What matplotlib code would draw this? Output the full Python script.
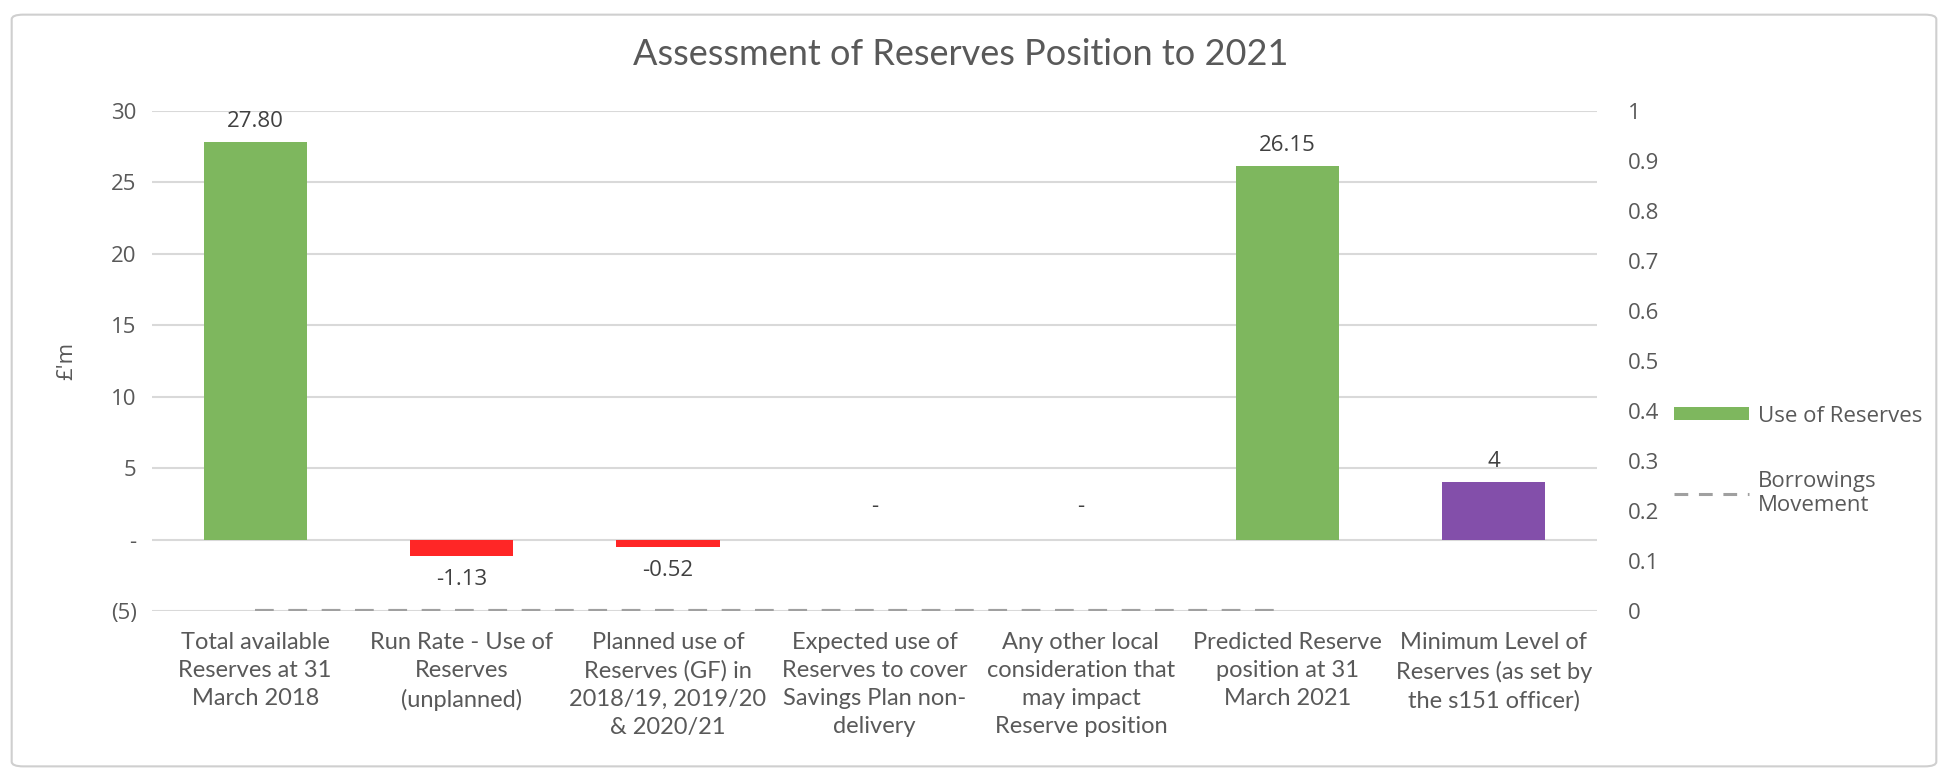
import matplotlib.pyplot as plt
import numpy as np
from matplotlib.lines import Line2D
from matplotlib.patches import Patch, FancyBboxPatch
from matplotlib.ticker import FuncFormatter

categories = [
    'Total available\nReserves at 31\nMarch 2018',
    'Run Rate - Use of\nReserves\n(unplanned)',
    'Planned use of\nReserves (GF) in\n2018/19, 2019/20\n& 2020/21',
    'Expected use of\nReserves to cover\nSavings Plan non-\ndelivery',
    'Any other local\nconsideration that\nmay impact\nReserve position',
    'Predicted Reserve\nposition at 31\nMarch 2021',
    'Minimum Level of\nReserves (as set by\nthe s151 officer)',
]
reserves = [27.80, -1.13, -0.52, 0.0, 0.0, 26.15, 4.0]
label_fmt = ['{:.2f}', '{:.2f}', '{:.2f}', '{:.2f}', '{:.2f}', '{:.2f}', '{:g}']
borrowings = [0, 0, 0, 0, 0, 0, np.nan]

GREEN = '#7EB75E'
RED = '#FF2626'
PURPLE = '#834FAA'
GREY_TXT = '#595959'
GRID = '#D9D9D9'
NARROW = ['Lato', 'DejaVu Sans']
SANS = ['Open Sans', 'DejaVu Sans']

bar_colors = [GREEN, RED, RED, RED, RED, GREEN, PURPLE]

fig = plt.figure(figsize=(19.48, 7.71), dpi=100)
ax = fig.add_axes([0.078, 0.2075, 0.7418, 0.6485])
ax2 = ax.twinx()

x = np.arange(len(categories))
ax.bar(x, reserves, width=0.5, color=bar_colors, zorder=2)

# data labels
for xi, v, fmt in zip(x, reserves, label_fmt):
    if v == 0:
        txt, off = '-', 24
    else:
        txt = fmt.format(v)
        off = 15 if v > 0 else -17
    ax.annotate(txt, (xi, v), xytext=(0, off), textcoords='offset points',
                ha='center', va='center', fontsize=16, color='#404040', family=SANS)

ax.set_ylim(-5, 30)
ax.set_xlim(-0.5, len(categories) - 0.5)
ax.set_yticks(np.arange(-5, 31, 5))


def left_fmt(v, pos):
    if v == 0:
        return '-'
    if v < 0:
        return '({:g})'.format(-v)
    return '{:g}'.format(v)


ax.yaxis.set_major_formatter(FuncFormatter(left_fmt))
ax.grid(axis='y', color=GRID, linewidth=1.5, zorder=0)
ax.set_axisbelow(True)
ax.set_xticks(x)
ax.set_xticklabels(categories, fontsize=17, color=GREY_TXT, family=NARROW,
                   linespacing=1.42)
ax.tick_params(axis='x', length=0, pad=15)
ax.tick_params(axis='y', length=0, pad=11, labelsize=16, labelcolor=GREY_TXT)
for lab in ax.get_yticklabels():
    lab.set_family(SANS)
for s in ax.spines.values():
    s.set_visible(False)
ax.set_ylabel("£'m", fontsize=16, color=GREY_TXT, family=SANS)
ax.yaxis.set_label_coords(-0.052, 0.5)

# secondary axis with borrowings line
ax2.plot(x, borrowings, color='#A0A0A0', linewidth=3, dashes=(4.5, 3.5), zorder=3,
         dash_capstyle='butt')
ax2.set_ylim(0, 1)
ax2.set_yticks(np.arange(0, 1.01, 0.1))
ax2.yaxis.set_major_formatter(FuncFormatter(lambda v, p: '{:g}'.format(round(v, 1))))
ax2.tick_params(axis='y', length=0, pad=22, labelsize=16, labelcolor=GREY_TXT)
for lab in ax2.get_yticklabels():
    lab.set_family(SANS)
for s in ax2.spines.values():
    s.set_visible(False)

fig.text(0.493, 0.929, 'Assessment of Reserves Position to 2021', ha='center', va='center',
         fontsize=26, color=GREY_TXT, family=NARROW, weight='normal')

handles = [Patch(facecolor=GREEN, edgecolor='none'),
           Line2D([], [], color='#A0A0A0', linewidth=2.2, dashes=(4.5, 3.5))]
leg = fig.legend(handles, ['Use of Reserves', 'Borrowings\nMovement'],
                 loc='upper left', bbox_to_anchor=(0.849, 0.5),
                 frameon=False, handlelength=3.4, handleheight=0.55,
                 handletextpad=0.4, labelspacing=2.0,
                 prop={'family': SANS, 'size': 16})
for t in leg.get_texts():
    t.set_color(GREY_TXT)

# outer chart border
border = FancyBboxPatch((0.006, 0.006), 0.988, 0.975, boxstyle='round,pad=0,rounding_size=0.006',
                        transform=fig.transFigure, facecolor='none', edgecolor='#CFCFCF',
                        linewidth=1.5)
fig.patches.append(border)

fig.savefig('out.png', dpi=100, facecolor='white')
